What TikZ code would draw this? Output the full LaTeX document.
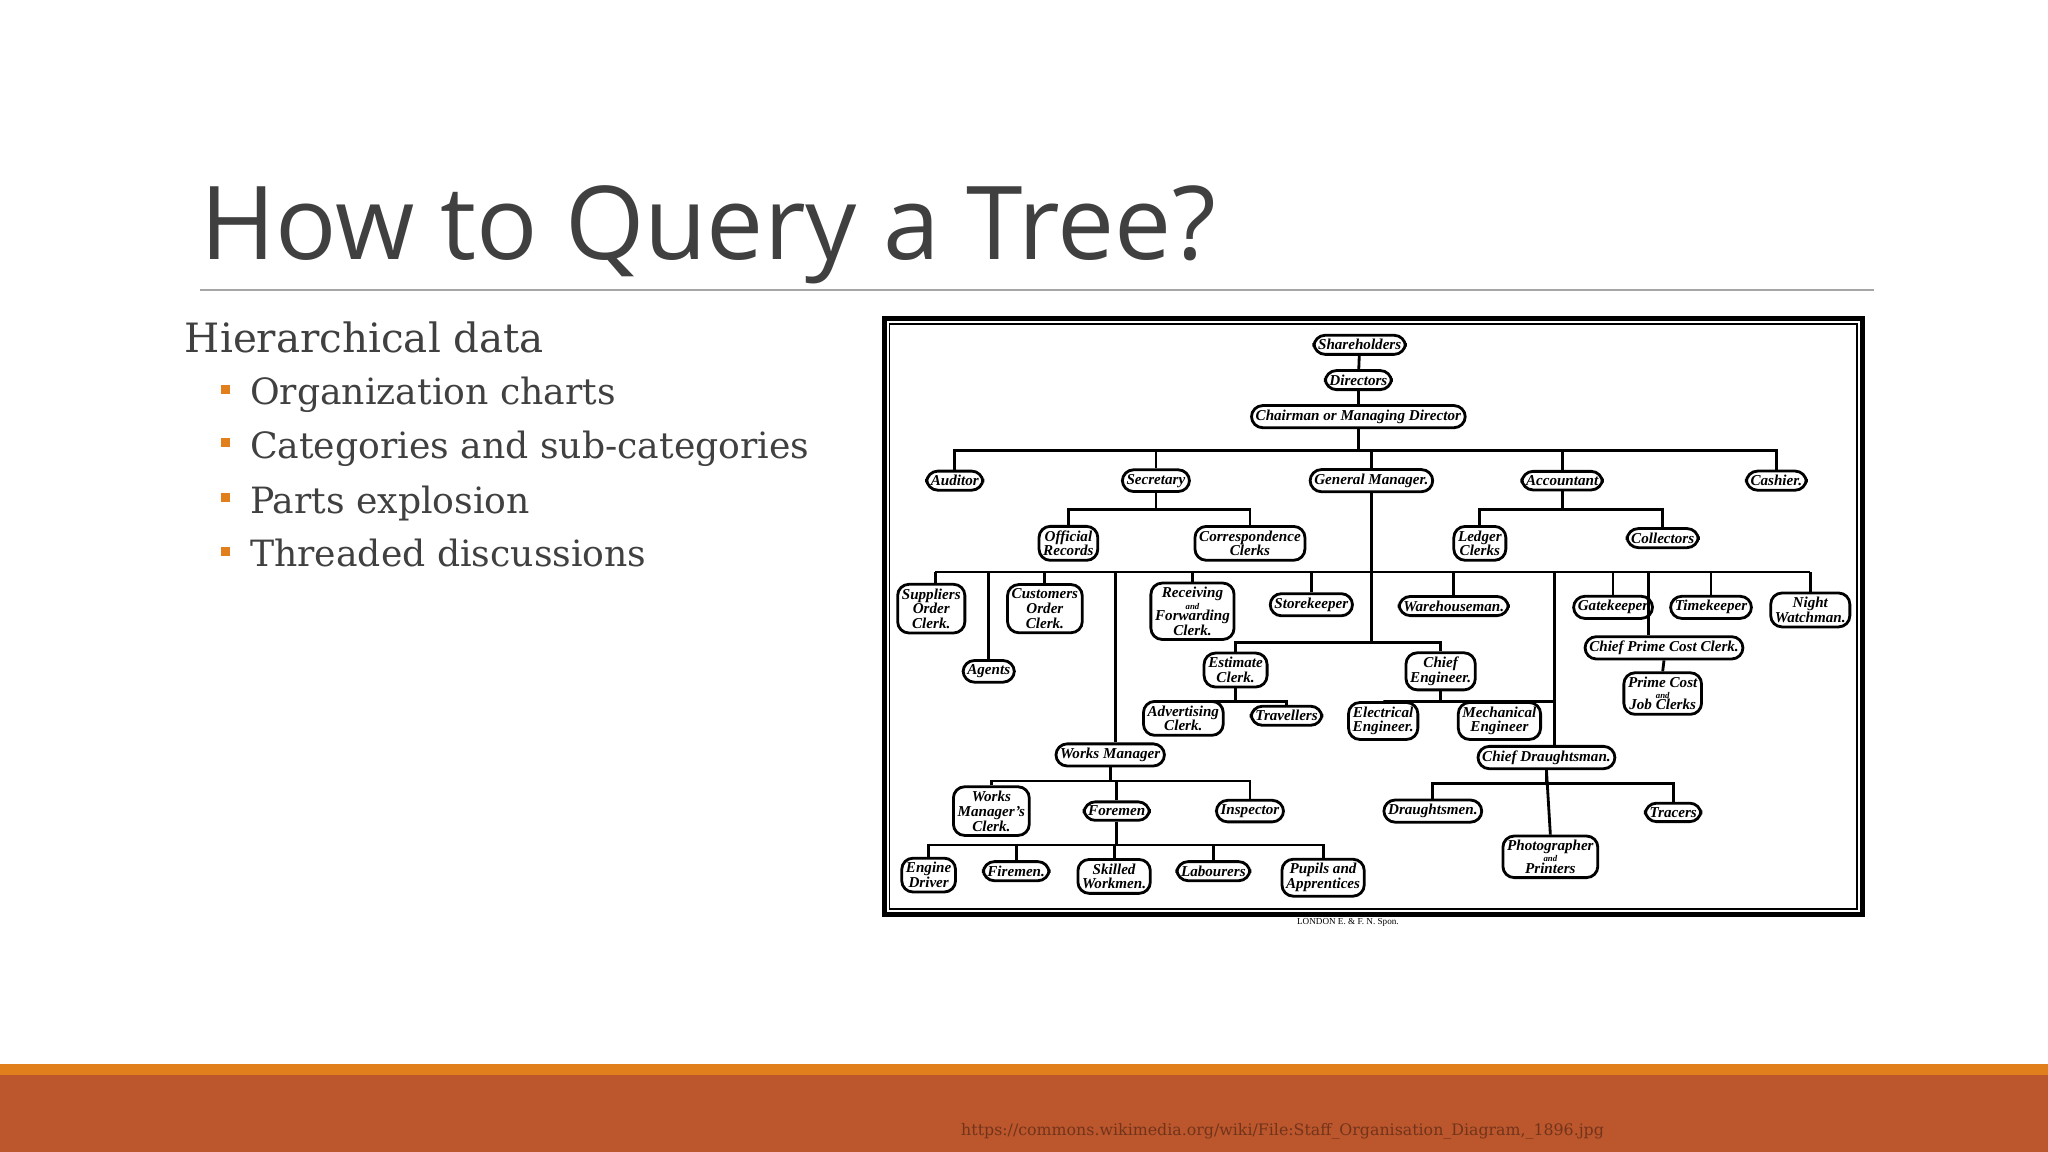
\documentclass[tikz,border=0pt]{standalone}
\usepackage{fontspec}
\setmainfont{Liberation Serif}
\newfontfamily\titlefont{Open Sans}
\newfontfamily\bodyfont{DejaVu Serif}
\usetikzlibrary{positioning}
\definecolor{orng}{HTML}{E07F1C}
\definecolor{rust}{HTML}{BC562C}
\definecolor{tgray}{HTML}{404040}
\begin{document}
\begin{tikzpicture}[x=0.01306cm,y=-0.01306cm,
  o/.style={draw,rounded corners=3.2pt,line width=0.8pt,inner sep=1.2pt,font=\fontsize{4.3}{4.2}\selectfont\itshape\bfseries,align=center},
  ln/.style={line width=0.8pt},
  bul/.style={fill=orng,minimum size=0.09cm,inner sep=0pt}]
\useasboundingbox (0,0) rectangle (1568,882);
\fill[white] (0,0) rectangle (1568,882);
\fill[orng] (0,815) rectangle (1568,824);
\fill[rust] (0,823) rectangle (1568,882);
\node[anchor=center,text=rust!60!black,font=\bodyfont\fontsize{4.5}{5}\selectfont] (url) at (982,866) {https://commons.wikimedia.org/wiki/File:Staff\_Organisation\_Diagram,\_1896.jpg};
\node[anchor=base west,text=tgray,font=\titlefont\fontsize{29}{30}\selectfont,inner sep=0] (title) at (153,199) {How to Query a Tree?};
\draw[gray!70,line width=0.5pt] (153,222) -- (1435,222);
\node[anchor=base west,text=tgray,font=\bodyfont\fontsize{11.5}{12}\selectfont,inner sep=0] (h) at (141,270) {Hierarchical data};
\foreach \t/\y [count=\i] in {Organization charts/310,Categories and sub-categories/351,Parts explosion/393,Threaded discussions/434}{
  \node[bul] (b\i) at (173,\y-12) {};
  \node[anchor=base west,text=tgray,font=\bodyfont\fontsize{10.3}{11}\selectfont,inner sep=0] (t\i) at (191,\y) {\t};
}
% frame
\draw[line width=1.4pt] (677,244) rectangle (1426,700);
\draw[line width=0.5pt] (681,248) rectangle (1422,696);
\node[font=\fontsize{2.6}{3}\selectfont] (spon) at (1032,706) {LONDON E. \& F. N. Spon.};
% nodes
\node[o] (sh) at (1041,264) {Shareholders};
\node[o] (di) at (1040,291) {Directors};
\node[o] (ch) at (1040,319) {Chairman or Managing Director};
\node[o] (au) at (731,368) {Auditor};
\node[o] (se) at (885,368) {Secretary};
\node[o] (gm) at (1050,368) {General Manager.};
\node[o] (ac) at (1196,368) {Accountant};
\node[o] (ca) at (1360,368) {Cashier.};
\node[o] (of) at (818,416) {Official\\Records};
\node[o] (co) at (957,416) {Correspondence\\Clerks};
\node[o] (le) at (1133,416) {Ledger\\Clerks};
\node[o] (cl) at (1273,412) {Collectors};
\node[o] (su) at (713,466) {Suppliers\\Order\\Clerk.};
\node[o] (cu) at (800,466) {Customers\\Order\\Clerk.};
\node[o] (ag) at (757,514) {Agents};
\node[o] (re) at (913,468) {Receiving\\[-1pt]{\fontsize{2.5}{2}\selectfont and}\\[-1pt]Forwarding\\Clerk.};
\node[o] (st) at (1004,463) {Storekeeper};
\node[o] (wh) at (1113,464) {Warehouseman.};
\node[o] (ga) at (1235,465) {Gatekeeper};
\node[o] (ti) at (1310,465) {Timekeeper};
\node[o] (nw) at (1386,467) {Night\\Watchman.};
\node[o] (cp) at (1274,496) {Chief Prime Cost Clerk.};
\node[o] (pc) at (1273,531) {Prime Cost\\[-1pt]{\fontsize{2.5}{2}\selectfont and}\\[-1pt]Job Clerks};
\node[o] (es) at (946,513) {Estimate\\Clerk.};
\node[o] (ce) at (1103,514) {Chief\\Engineer.};
\node[o] (ad) at (906,550) {Advertising\\Clerk.};
\node[o] (tr) at (985,548) {Travellers};
\node[o] (el) at (1059,552) {Electrical\\Engineer.};
\node[o] (me) at (1148,552) {Mechanical\\Engineer};
\node[o] (wm) at (850,578) {Works Manager};
\node[o] (cd) at (1184,580) {Chief Draughtsman.};
\node[o] (wc) at (759,621) {Works\\Manager's\\Clerk.};
\node[o] (fo) at (855,621) {Foremen};
\node[o] (in) at (957,621) {Inspector};
\node[o] (dr) at (1097,621) {Draughtsmen.};
\node[o] (tc) at (1281,622) {Tracers};
\node[o] (ph) at (1187,656) {Photographer\\[-1pt]{\fontsize{2.5}{2}\selectfont and}\\[-1pt]Printers};
\node[o] (en) at (711,670) {Engine\\Driver};
\node[o] (fi) at (778,667) {Firemen.};
\node[o] (sk) at (853,671) {Skilled\\Workmen.};
\node[o] (la) at (929,667) {Labourers};
\node[o] (pu) at (1013,672) {Pupils and\\Apprentices};
% connectors
\draw[ln] (sh) -- (di); \draw[ln] (di) -- (ch);
\draw[ln] (ch) -- (ch.south |- 0,345);
\draw[ln] (au.north) -- (au.north |- 0,345) -| (ca.north);
\foreach \n in {se,gm,ac}{\draw[ln] (\n.north) -- (\n.north |- 0,345);}
\draw[ln] (se.south) -- (se.south |- 0,390);
\draw[ln] (of.north) -- (of.north |- 0,390) -| (co.north);
\draw[ln] (ac.south) -- (ac.south |- 0,390);
\draw[ln] (le.north) -- (le.north |- 0,390) -| (cl.north);
\draw[ln] (gm.south) -- (gm.south |- 0,492);
\coordinate (bl) at (716,438); \coordinate (br) at (1386,438);
\draw[ln] (bl) -- (br);
\draw[ln] (bl) -- (su.north -| bl);
\draw[ln] (757,438) -- (ag.north -| 757,0);
\draw[ln] (cu.north) -- (cu.north |- bl);
\draw[ln] (854,438) -- (wm.north -| 854,0);
\draw[ln] (re.north) -- (re.north |- bl);
\draw[ln] (st.north) -- (st.north |- bl);
\draw[ln] (wh.north) -- (wh.north |- bl);
\draw[ln] (1190,438) -- (cd.north -| 1190,0);
\draw[ln] (ga.north) -- (ga.north |- bl);
\draw[ln] (ti.north) -- (ti.north |- bl);
\draw[ln] (nw.north) -- (nw.north |- bl);
\draw[ln] (1262,438) -- (cp.north -| 1262,0);
\draw[ln] (cp.south) -- (pc.north);
\draw[ln] (es.north) -- (es.north |- 0,492) -| (ce.north);
\draw[ln] (es.south) -- (es.south |- 0,537);
\draw[ln] (ad.north) -- (ad.north |- 0,537) -| (tr.north);
\draw[ln] (ce.south) -- (ce.south |- 0,537);
\draw[ln] (el.north) -- (el.north |- 0,537) -- (1190,537);
\draw[ln] (me.north) -- (me.north |- 0,537);
\draw[ln] (wm.south) -- (wm.south |- 0,598);
\draw[ln] (wc.north) -- (wc.north |- 0,598) -| (in.north);
\draw[ln] (fo.north) -- (fo.north |- 0,598);
\draw[ln] (fo.south) -- (fo.south |- 0,647);
\draw[ln] (en.north) -- (en.north |- 0,647) -| (pu.north);
\foreach \n in {fi,sk,la}{\draw[ln] (\n.north) -- (\n.north |- 0,647);}
\draw[ln] (cd.south) -- (cd.south |- 0,600);
\draw[ln] (dr.north) -- (dr.north |- 0,600) -| (tc.north);
\draw[ln] (cd.south) -- (ph.north);
\end{tikzpicture}
\end{document}
